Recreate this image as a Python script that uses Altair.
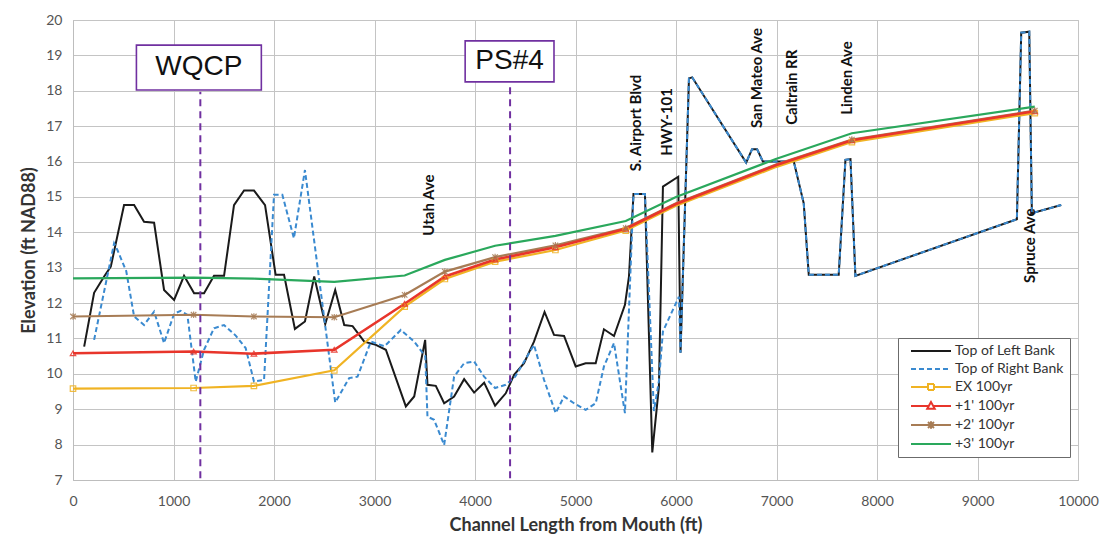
import json
import altair as alt
import pandas as pd

# ---------------- data ----------------
left_x = [111, 210, 310, 376, 508, 608, 707, 807, 906, 1006, 1105, 1205, 1304, 1403, 1503,
          1602, 1702, 1801, 1911, 2016, 2100, 2208, 2308, 2400, 2510, 2609, 2699, 2782, 2898,
          3014, 3113, 3312, 3395, 3504, 3527, 3610, 3693, 3792, 3892, 3991, 4091, 4200, 4306,
          4389, 4488, 4587, 4692, 4786, 4886, 5002, 5101, 5201, 5283, 5383, 5492, 5532, 5577,
          5691, 5764, 5830, 5870, 6022, 6045, 6129, 6161]
left_y = [10.77, 12.29, 12.75, 13.03, 14.77, 14.77, 14.3, 14.27, 12.37, 12.09, 12.77, 12.28,
          12.28, 12.77, 12.77, 14.77, 15.18, 15.18, 14.77, 12.8, 12.8, 11.27, 11.48, 12.75,
          11.41, 12.37, 11.38, 11.35, 10.91, 10.82, 10.68, 9.08, 9.36, 10.96, 9.69, 9.66, 9.17,
          9.36, 9.85, 9.47, 9.75, 9.10, 9.45, 9.97, 10.30, 10.91, 11.75, 11.10, 11.07, 10.21,
          10.30, 10.30, 11.26, 11.07, 11.95, 12.75, 15.08, 15.08, 7.78, 9.64, 15.29, 15.57,
          10.6, 18.35, 18.38]

right_x = [210, 409, 442, 530, 608, 707, 807, 906, 1006, 1072, 1138, 1221, 1304, 1403, 1503,
           1619, 1718, 1801, 1901, 2000, 2083, 2198, 2308, 2609, 2748, 2831, 2964, 3100, 3262,
           3395, 3505, 3527, 3593, 3693, 3792, 3892, 3991, 4091, 4200, 4306, 4400, 4587, 4687,
           4803, 4886, 4985, 5101, 5201, 5283, 5383, 5492, 5577, 5691, 5780, 5830, 5870, 6029,
           6045, 6129, 6161]
right_y = [10.96, 13.69, 13.5, 12.9, 11.62, 11.38, 11.76, 10.87, 11.7, 11.78, 11.67, 9.78,
           10.68, 11.29, 11.38, 11.08, 10.73, 9.78, 9.83, 15.06, 15.06, 13.83, 15.76, 9.19,
           9.88, 9.92, 10.91, 10.78, 11.24, 10.91, 10.5, 8.79, 8.70, 7.99, 9.92, 10.30, 10.35,
           9.92, 9.6, 9.69, 9.92, 10.82, 9.83, 8.89, 9.36, 9.17, 8.98, 9.17, 10.21, 10.87, 8.89,
           15.08, 15.08, 8.95, 9.8, 11.2, 12.18, 10.6, 18.35, 18.38]

# upstream reach where both banks coincide
shared_x = [6698, 6757, 6807, 6864, 7172, 7271, 7321, 7619, 7686, 7736, 7785, 9392, 9435,
            9515, 9541, 9833]
shared_y = [15.97, 16.35, 16.35, 16.0, 16.0, 14.82, 12.8, 12.8, 16.05, 16.07, 12.77, 14.37,
            19.64, 19.67, 14.54, 14.77]

wse_x = [0, 1200, 1800, 2600, 3300, 3700, 4200, 4800, 5500, 6000, 7000, 7750, 9570]
ex_100 = [9.58, 9.6, 9.66, 10.1, 11.9, 12.68, 13.17, 13.5, 14.05, 14.75, 15.85, 16.55, 17.37]
p1_100 = [10.58, 10.63, 10.57, 10.68, 11.98, 12.75, 13.23, 13.58, 14.1, 14.8, 15.9, 16.6, 17.42]
p2_100 = [11.62, 11.67, 11.62, 11.6, 12.23, 12.89, 13.3, 13.63, 14.12, 14.82, 15.92, 16.62, 17.44]
p3_100 = [12.7, 12.72, 12.69, 12.6, 12.78, 13.22, 13.62, 13.9, 14.32, 15.0, 16.08, 16.8, 17.55]
marker_x = [0, 1200, 1800, 2600, 3300, 3700, 4200, 4800, 5500, 7750, 9570]

series_names = ["Top of Left Bank", "Top of Right Bank", "EX 100yr", "+1' 100yr",
                "+2' 100yr", "+3' 100yr"]
series_colors = ["#1a1a1a", "#3a8ad0", "#f0b323", "#e8352b", "#a77c55", "#2aa85c"]

# station markers (purple boxes)
site_names = ["WQCP", "PS#4"]
site_x = [1267, 4349]
site_line_top = [17.97, 18.2]
site_box_x = [631, 3902]
site_box_x2 = [1874, 4786]
site_box_y = [18.02, 18.25]
site_box_y2 = [19.29, 19.41]
site_text_x = [1252, 4344]
site_text_y = [18.66, 18.83]
axis_bottom = 7.05

# crossing labels
road_names = ["Utah Ave", "S. Airport Blvd", "HWY-101", "San Mateo Ave", "Caltrain RR",
              "Linden Ave", "Spruce Ave"]
road_x = [3544, 5601, 5910, 6804, 7152, 7699, 9518]
road_y = [14.77, 17.09, 17.12, 18.36, 18.1, 18.36, 13.62]

# ---------------- tables ----------------
rows = []
for x, y in zip(left_x + shared_x, left_y + shared_y):
    rows.append({"series": series_names[0], "x": x, "y": y, "marker": False})
for x, y in zip(right_x + shared_x, right_y + shared_y):
    rows.append({"series": series_names[1], "x": x, "y": y, "marker": False})
for name, vals in zip(series_names[2:], [ex_100, p1_100, p2_100, p3_100]):
    for x, y in zip(wse_x, vals):
        rows.append({"series": name, "x": x, "y": y, "marker": x in marker_x})
df = pd.DataFrame(rows)

sites = pd.DataFrame({"name": site_names, "x": site_x, "ytop": site_line_top,
                      "ybot": [axis_bottom] * 2, "bx": site_box_x, "bx2": site_box_x2,
                      "by": site_box_y, "by2": site_box_y2, "tx": site_text_x,
                      "ty": site_text_y})
roads = pd.DataFrame({"name": road_names, "x": road_x, "y": road_y})

# ---------------- styling ----------------
FONT = "Lato"
PURPLE = "#7030a0"

xscale = alt.Scale(domain=[0, 10000], nice=False, zero=False)
yscale = alt.Scale(domain=[7, 20], nice=False, zero=False)

x_axis = alt.Axis(values=list(range(0, 10001, 1000)), format="d",
                  title="Channel Length from Mouth (ft)", labelPadding=14, titlePadding=8,
                  labelOverlap=False, labelFlush=False)
y_axis = alt.Axis(values=list(range(7, 21)), format="d", title="Elevation (ft NAD88)",
                  labelPadding=11, titlePadding=7, labelOverlap=False, labelFlush=False)


def X(field):
    return alt.X(field, scale=xscale, axis=x_axis)


def Y(field):
    return alt.Y(field, scale=yscale, axis=y_axis)


legend_paths = [
    "M-4,0L4,0",
    "M-4,0L4,0",
    "M-4,0L-0.6,0M0.6,0L4,0M-0.6,-0.6L0.6,-0.6L0.6,0.6L-0.6,0.6Z",
    "M-4,0L-0.55,0M0.55,0L4,0M0,-0.8L0.75,0.55L-0.75,0.55Z",
    "M-4,0L4,0M-0.6,-0.6L0.6,0.6M-0.6,0.6L0.6,-0.6M0,-0.75L0,0.75",
    "M-4,0L4,0",
]
legend_dash = [[1, 0], [5, 3], [1, 0], [1, 0], [1, 0], [1, 0]]
idx = "indexof(" + json.dumps(series_names) + ", datum.value)"

legend = alt.Legend(
    title=None, orient="none", legendX=825, legendY=318,
    strokeColor="#6b6b6b", fillColor="white", padding=6,
    symbolType={"expr": json.dumps(legend_paths) + "[" + idx + "]"},
    symbolDash={"expr": json.dumps(legend_dash) + "[" + idx + "]"},
    symbolSize=100, symbolStrokeWidth=2, symbolFillColor="transparent",
    symbolOffset=20, labelOffset=17, rowPadding=4,
    labelFont=FONT, labelFontSize=14, labelColor="#333333",
)

color = alt.Color("series:N", scale=alt.Scale(domain=series_names, range=series_colors),
                  legend=legend)

base = alt.Chart(df)


def line_layer(i, width, dash=None):
    kw = {"strokeWidth": width, "clip": True}
    if dash:
        kw["strokeDash"] = dash
    return base.transform_filter(alt.datum.series == series_names[i]).mark_line(**kw).encode(
        x=X("x:Q"), y=Y("y:Q"), color=color)


layers = [
    line_layer(0, 2),
    line_layer(1, 2, [5, 3]),
    line_layer(5, 2.2),
    line_layer(4, 2.2),
    line_layer(2, 2.2),
    line_layer(3, 2.6),
]

marker_specs = [(2, "square"), (3, "triangle-up"),
                (4, "M-1,-1L1,1M-1,1L1,-1M0,-1.2L0,1.2")]
for i, shp in marker_specs:
    layers.append(
        base.transform_filter((alt.datum.series == series_names[i]) & alt.datum.marker)
        .mark_point(shape=shp, filled=False, size=30, strokeWidth=1.2, opacity=0.85)
        .encode(x=X("x:Q"), y=Y("y:Q"), color=alt.value(series_colors[i]))
    )

site_rules = alt.Chart(sites).mark_rule(color=PURPLE, strokeWidth=2, strokeDash=[7, 5]).encode(
    x=X("x:Q"), y=Y("ybot:Q"), y2="ytop:Q")
site_boxes = alt.Chart(sites).mark_rect(fill="white", stroke=PURPLE, strokeWidth=1.6).encode(
    x=X("bx:Q"), x2="bx2:Q", y=Y("by:Q"), y2="by2:Q")
site_text = alt.Chart(sites).mark_text(font="Liberation Sans", fontSize=28, color="#111111",
                                       align="center", baseline="middle").encode(
    x=X("tx:Q"), y=Y("ty:Q"), text="name:N")
road_text = alt.Chart(roads).mark_text(font=FONT, fontSize=15, fontWeight="bold",
                                       color="#111111", angle=270, align="center",
                                       baseline="middle").encode(
    x=X("x:Q"), y=Y("y:Q"), text="name:N")

chart = alt.layer(*layers, site_rules, site_boxes, site_text, road_text).properties(
    width=1005, height=460,
    padding={"left": 65, "top": 12, "right": 26, "bottom": 54},
    autosize=alt.AutoSizeParams(type="none"),
    background="white",
).configure_axis(
    grid=True, gridColor="#c4c4c4", gridWidth=1, domainColor="#bdbdbd", ticks=False,
    labelOverlap=False,
    labelFont=FONT, labelFontSize=14, labelColor="#555555",
    titleFont=FONT, titleFontSize=18, titleFontWeight="bold", titleColor="#333333",
).configure_axisY(labelOverlap=False).configure_view(stroke="#c4c4c4")

chart.save("out.html", embed_options={"renderer": "svg", "actions": False})
